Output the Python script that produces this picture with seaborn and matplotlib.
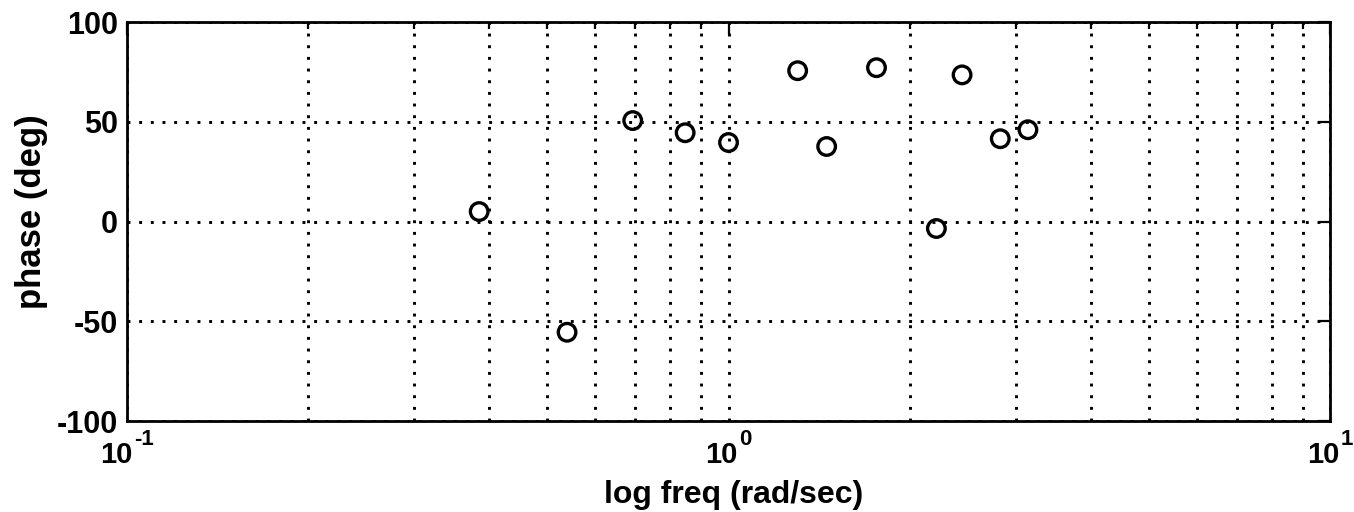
import numpy as np
import pandas as pd
import matplotlib
matplotlib.use("Agg")
import matplotlib.pyplot as plt
import matplotlib.transforms as mtransforms
import seaborn as sns
from matplotlib.ticker import LogLocator, NullFormatter

# Measured phase response at each test frequency
freq = [0.385, 0.539, 0.693, 0.847, 1.0, 1.303, 1.456, 1.762, 2.216, 2.445, 2.83, 3.146]
phase = [5.0, -55.5, 50.6, 44.5, 39.6, 75.6, 37.6, 77.1, -3.5, 73.5, 41.5, 46.0]
y_ticks = [-100, -50, 0, 50, 100]
x_decades = [0.1, 1.0, 10.0]
x_exponents = ["-1", "0", "1"]

sns.set_style("white")
plt.rcParams["font.family"] = ["Liberation Sans", "DejaVu Sans"]
plt.rcParams["axes.unicode_minus"] = False
for key in ("text.color", "axes.labelcolor", "xtick.color", "ytick.color"):
    plt.rcParams[key] = "black"

df = pd.DataFrame({"freq": freq, "phase": phase})

fig = plt.figure(figsize=(13.54, 5.12), dpi=100)
ax = fig.add_axes([0.0938, 0.1777, 0.8885, 0.7793])

sns.scatterplot(data=df, x="freq", y="phase", ax=ax, marker="o", s=160,
                facecolor="none", edgecolor="black", linewidth=2.4, zorder=3)

ax.set_xscale("log")
ax.set_xlim(x_decades[0], x_decades[-1])
ax.set_ylim(y_ticks[0], y_ticks[-1])
ax.set_yticks(y_ticks)
ax.set_yticklabels([str(v) for v in y_ticks], fontsize=22, fontweight="bold")
ax.xaxis.set_major_locator(LogLocator(base=10))
ax.xaxis.set_minor_locator(LogLocator(base=10, subs=np.arange(2, 10)))
ax.xaxis.set_minor_formatter(NullFormatter())
ax.set_xticks(x_decades)
ax.set_xticklabels([])

# dotted grid on every decade and sub-decade line
dot = (0, (1, 3))
ax.grid(True, which="major", axis="both", color="black", linestyle=dot, linewidth=2.1)
ax.grid(True, which="minor", axis="x", color="black", linestyle=dot, linewidth=2.1)

for side in ax.spines.values():
    side.set_color("black")
    side.set_linewidth(2.0)

ax.tick_params(axis="both", which="both", direction="in", top=True, right=True,
               width=1.6)
ax.tick_params(axis="both", which="major", length=9)
ax.tick_params(axis="y", which="major", pad=6.5)
ax.tick_params(axis="x", which="minor", length=5)

# decade labels drawn as base "10" with a raised exponent
trans = mtransforms.blended_transform_factory(ax.transData, ax.transAxes)
pairs = []
for v, e in zip(x_decades, x_exponents):
    base = ax.annotate("10", xy=(v, 0), xycoords=trans, xytext=(0, -42),
                       textcoords="offset pixels", ha="right", va="baseline",
                       fontsize=21, fontweight="bold", annotation_clip=False)
    sup = ax.annotate(e, xy=(v, 0), xycoords=trans, xytext=(2, -24),
                      textcoords="offset pixels", ha="left", va="baseline",
                      fontsize=16, fontweight="bold", annotation_clip=False)
    pairs.append((base, sup))

fig.canvas.draw()
renderer = fig.canvas.get_renderer()
for base, sup in pairs:
    wb = base.get_window_extent(renderer).width
    ws = sup.get_window_extent(renderer).width
    shift = (wb - ws - 2) / 2
    base.xyann = (shift, -42)
    sup.xyann = (shift + 2, -24)

ax.set_xlabel("log freq (rad/sec)", fontsize=23, fontweight="bold")
ax.xaxis.label.set_va("baseline")
ax.xaxis.set_label_coords(0.504, -0.2055)
ax.set_ylabel("phase (deg)", fontsize=25, fontweight="bold")
ax.yaxis.set_label_coords(-0.066, 0.526)

fig.savefig("out.png", dpi=100, facecolor="white")
